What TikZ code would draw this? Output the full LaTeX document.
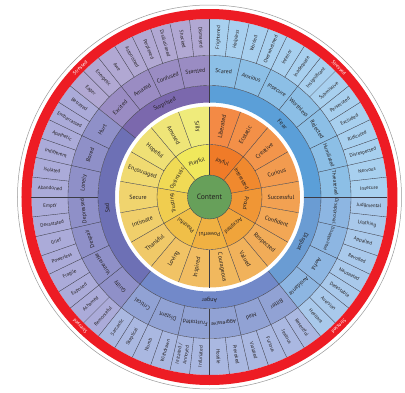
\documentclass[tikz,border=0pt]{standalone}
\usepackage{fontspec}
\setmainfont{PT Sans}
\usepackage{graphicx}
\newsavebox\fitbx
\newcommand\fitto[2]{\sbox\fitbx{#2}\ifdim\wd\fitbx>#1\relax\resizebox{#1}{!}{\usebox\fitbx}\else\usebox\fitbx\fi}
\definecolor{wred}{HTML}{ED1C24}
\definecolor{grn}{HTML}{67A05A}
\definecolor{inA}{HTML}{F07B28}
\definecolor{inB}{HTML}{F0E85C}
\definecolor{ltA}{HTML}{F38A45}
\definecolor{ltB}{HTML}{EFEB7B}
\definecolor{fearC}{HTML}{5B9FD8}
\definecolor{fearM}{HTML}{8CBFE6}
\definecolor{fearL}{HTML}{A8D0EF}
\definecolor{disgC}{HTML}{6A9CD3}
\definecolor{disgM}{HTML}{8DB6E2}
\definecolor{disgL}{HTML}{A9C9EB}
\definecolor{angC}{HTML}{7289C9}
\definecolor{angM}{HTML}{91A2D4}
\definecolor{angL}{HTML}{AAB8E1}
\definecolor{sadC}{HTML}{6D70B5}
\definecolor{sadM}{HTML}{8F90C8}
\definecolor{sadL}{HTML}{ABABD9}
\definecolor{surC}{HTML}{7B68AD}
\definecolor{surM}{HTML}{9A8CC3}
\definecolor{surL}{HTML}{B1A8D3}
\definecolor{ink}{HTML}{231F20}
\definecolor{seam}{HTML}{3C3C46}
\tikzset{
  seg/.style={line width=0.35pt, draw=seam},
  lbl/.style={inner sep=0pt, text=ink, anchor=center},
  leaffont/.style={font=\fontsize{5}{5.6}\selectfont},
  midfont/.style={font=\fontsize{5.8}{6.5}\selectfont},
  corefont/.style={font=\fontsize{6}{7}\selectfont},
  innfont/.style={font=\fontsize{5.6}{6.5}\selectfont},
  ringfont/.style={font=\fontsize{6}{7}\selectfont},
}
\newcommand\annsec[5]{\fill[#1] (#2:#4) arc[start angle=#2, end angle=#3, radius=#4] -- (#3:#5) arc[start angle=#3, end angle=#2, radius=#5] -- cycle;}
\def\lu{6.4285714}
\def\mu{12.857143}
\begin{document}
\begin{tikzpicture}[x=1pt,y=1pt]
\useasboundingbox (-209.5,-195) rectangle (195.5,197);
\fill[white] (-209.5,-195) rectangle (195.5,197);
% inner wheel, ring 2
\foreach \k in {0,...,8} {
  \pgfmathsetmacro\a{90-40*\k}
  \pgfmathsetmacro\b{50-40*\k}
  \pgfmathsetmacro\p{100*\k/8}
  \annsec{inB!\p!inA}{\a}{\b}{22}{52.5}
}
% inner wheel, ring 3
\foreach \j in {0,...,17} {
  \pgfmathsetmacro\a{90-20*\j}
  \pgfmathsetmacro\b{70-20*\j}
  \pgfmathsetmacro\p{100*\j/17}
  \annsec{ltB!\p!ltA}{\a}{\b}{52.5}{90.5}
}
% outer wheel sections
\foreach \n/\s/\e in {fear/0/14, disg/14/22, ang/22/34, sad/34/48, sur/48/56} {
  \pgfmathsetmacro\a{90-\s*\lu}
  \pgfmathsetmacro\b{90-\e*\lu}
  \annsec{\n C}{\a}{\b}{94.5}{111.5}
  \annsec{\n M}{\a}{\b}{111.5}{141.5}
  \annsec{\n L}{\a}{\b}{141.5}{178}
}
% red ring and outer circle
\draw[wred, line width=10pt] (0,0) circle[radius=183];
\draw[black!40, line width=0.5pt] (0,0) circle[radius=192];
% centre
\fill[grn] (0,0) circle[radius=22];
% seams
\draw[seg] (0,0) circle[radius=22];
\draw[seg] (0,0) circle[radius=52.5];
\draw[seg] (0,0) circle[radius=111.5];
\draw[seg] (0,0) circle[radius=141.5];
\foreach \k in {0,...,8} \draw[seg] ({90-40*\k}:22) -- ({90-40*\k}:52.5);
\foreach \j in {0,...,17} \draw[seg] ({90-20*\j}:52.5) -- ({90-20*\j}:90.5);
\foreach \s in {0,14,22,34,48} \draw[seg] ({90-\s*\lu}:94.5) -- ({90-\s*\lu}:111.5);
\foreach \i in {0,...,27} \draw[seg] ({90-\i*\mu}:111.5) -- ({90-\i*\mu}:141.5);
\foreach \i in {0,...,55} \draw[seg] ({90-\i*\lu}:141.5) -- ({90-\i*\lu}:178);
% labels
\node[lbl, font=\fontsize{7.6}{9}\selectfont] (content) at (0,0) {Content};
\foreach \lab [count=\k from 0] in {Joyful,Interested,Proud,Accepted,Powerful,Peaceful,Trusting,Optimistic,Playful} {
  \pgfmathsetmacro\t{70-40*\k}
  \pgfmathsetmacro\r{\t-90}
  \node[lbl, innfont, rotate=\r] (in\k) at (\t:37) {\fitto{24pt}{\lab}};
}
\foreach \lab [count=\j from 0] in {Liberated,Ecstatic,Creative,Curious,Successful,Confident,Respected,Valued,Courageous,Inspired,Loving,Thankful,Intimate,Secure,Encouraged,Hopeful,Amused,Silly} {
  \pgfmathsetmacro\t{80-20*\j}
  \pgfmathsetmacro\r{(\t>-90) ? \t : \t+180}
  \node[lbl, ringfont, rotate=\r] (rg\j) at (\t:71.5) {\fitto{34pt}{\lab}};
}
\foreach \lab/\t [count=\c from 0] in {Fear/45, Disgust/-25.714, Anger/-90, Sad/186.43, Surprised/115.71} {
  \pgfmathsetmacro\r{\t-90}
  \node[lbl, corefont, rotate=\r] (core\c) at (\t:103) {\lab};
}
\foreach \lab [count=\i from 0] in {Scared,Anxious,Insecure,Worthless,Rejected,Humiliated,Threatened,Disapproval,Disappointed,Awful,Avoidance,Bitter,Mad,Aggressive,Frustrated,Distant,Critical,Guilty,Vulnerable,Despair,Depressed,Lonely,Bored,Hurt,Excited,Amazed,Confused,Startled} {
  \pgfmathsetmacro\t{90-(\i+0.5)*\mu}
  \pgfmathsetmacro\r{\t-90}
  \node[lbl, midfont, rotate=\r] (md\i) at (\t:126.5) {\fitto{25pt}{\lab}};
}
\foreach \lab [count=\i from 0] in {Frightened,Helpless,Worried,Overwhelmed,Inferior,Inadequate,Insignificant,Submissive,Persecuted,Excluded,Ridiculed,Disrespected,Nervous,Insecure,Judgmental,Loathing,Appalled,Revolted,Nauseated,Detestable,Aversion,Hesitant,Resentful,Jealous,Furious,Violated,Provoked,Hostile,Infuriated,{\shortstack{Irritated /\\Annoyed}},Withdrawn,Numb,Skeptical,Sarcastic,Remorseful,Ashamed,Exposed,Fragile,Powerless,Grief,Devastated,Empty,Abandoned,Isolated,Indifferent,Apathetic,Embarrassed,Betrayed,Eager,Energetic,Awe,Astonished,Perplexed,Disillusioned,Shocked,Dismayed} {
  \pgfmathsetmacro\t{90-(\i+0.5)*\lu}
  \pgfmathsetmacro\r{(\t>-90) ? \t : \t+180}
  \node[lbl, leaffont, rotate=\r] (lf\i) at (\t:159.75) {\fitto{32pt}{\lab}};
}
\foreach \t [count=\c] in {45,135,-45,-135} {
  \pgfmathsetmacro\r{\t-90}
  \node[lbl, text=white, font=\fontsize{5}{6}\selectfont, rotate=\r] (st\c) at (\t:183) {Stressed};
}
\end{tikzpicture}
\end{document}
